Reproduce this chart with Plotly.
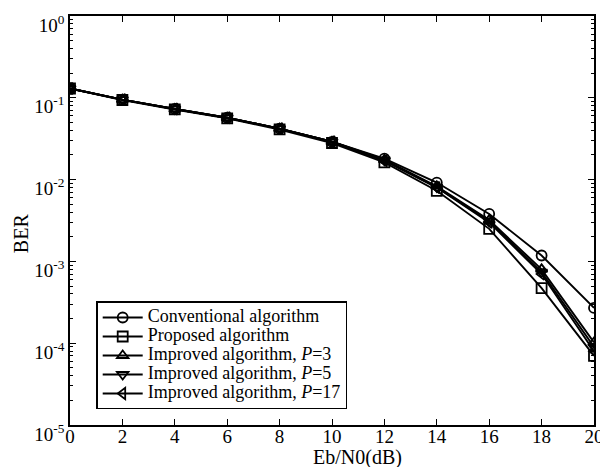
import plotly.graph_objects as go

snr = [0, 2, 4, 6, 8, 10, 12, 14, 16, 18, 20]
ber_conventional = [0.13, 0.095, 0.073, 0.057, 0.042, 0.029, 0.018, 0.0092, 0.0038, 0.00118, 0.00027]
ber_proposed = [0.13, 0.094, 0.072, 0.056, 0.041, 0.028, 0.0162, 0.0073, 0.0025, 0.00047, 0.00007]
ber_p3 = [0.13, 0.095, 0.073, 0.057, 0.042, 0.029, 0.0175, 0.0083, 0.0032, 0.00080, 0.000102]
ber_p5 = [0.13, 0.095, 0.073, 0.057, 0.042, 0.029, 0.0172, 0.0081, 0.0031, 0.00074, 0.000090]
ber_p17 = [0.13, 0.095, 0.073, 0.057, 0.042, 0.029, 0.0170, 0.0080, 0.0030, 0.00070, 0.000080]

series_names = [
    "Conventional algorithm",
    "Proposed algorithm",
    "Improved algorithm, <i>P</i>=3",
    "Improved algorithm, <i>P</i>=5",
    "Improved algorithm, <i>P</i>=17",
]
series_values = [ber_conventional, ber_proposed, ber_p3, ber_p5, ber_p17]
series_symbols = ["circle-open", "square-open", "triangle-up-open", "triangle-down-open", "triangle-left-open"]

ytick_vals = [1, 0.1, 0.01, 0.001, 0.0001, 0.00001]
ytick_text = ["10<sup>0</sup>", "10<sup>-1</sup>", "10<sup>-2</sup>", "10<sup>-3</sup>", "10<sup>-4</sup>", "10<sup>-5</sup>"]
xtick_vals = [0, 2, 4, 6, 8, 10, 12, 14, 16, 18, 20]

fig = go.Figure()
for name, vals, sym in zip(series_names, series_values, series_symbols):
    fig.add_trace(go.Scatter(
        x=snr, y=vals, mode="lines+markers",
        name='<span style="font-size:18px">' + name + '</span>',
        line=dict(color="black", width=1.9),
        marker=dict(symbol=sym, size=10, color="black", line=dict(width=1.8, color="black")),
    ))

font_family = "Liberation Serif, Times New Roman, serif"
fig.update_layout(
    width=600, height=459,
    margin=dict(l=62, r=4, t=8, b=42),
    paper_bgcolor="white", plot_bgcolor="white",
    font=dict(family=font_family, size=19, color="black"),
    showlegend=True,
    legend=dict(
        x=0.05, y=0.302, xanchor="left", yanchor="top",
        bgcolor="white", bordercolor="black", borderwidth=1.5,
        font=dict(family=font_family, size=12, color="black"),
        tracegroupgap=0, itemwidth=40,
    ),
    xaxis=dict(
        range=[0, 20], tickvals=xtick_vals, ticks="inside", ticklen=6,
        tickwidth=1.2, tickcolor="black", showline=True, linecolor="black",
        linewidth=1.5, mirror="ticks", showgrid=False, zeroline=False,
        tickfont=dict(size=19), ticklabeloverflow="allow", ticklabelstandoff=-7,
    ),
    yaxis=dict(
        type="log", range=[-5, 0], tickvals=ytick_vals, ticktext=ytick_text,
        ticks="inside", ticklen=6, tickwidth=1.2, tickcolor="black",
        showline=True, linecolor="black", linewidth=1.5, mirror="ticks",
        showgrid=False, zeroline=False,
        minor=dict(ticks="inside", ticklen=3, tickcolor="black", dtick="D1", showgrid=False),
        tickfont=dict(size=19), ticklabeloverflow="allow",
        ticklabelshift=9,
    ),
    annotations=[
        dict(text="Eb/N0(dB)", xref="paper", yref="paper", x=0.549, y=-0.08,
             xanchor="center", yanchor="middle", showarrow=False, font=dict(size=20)),
        dict(text="BER", xref="paper", yref="paper", x=-0.0936, y=0.469, textangle=-90,
             xanchor="center", yanchor="middle", showarrow=False, font=dict(size=20)),
    ],
)

fig.write_html("out.html")
